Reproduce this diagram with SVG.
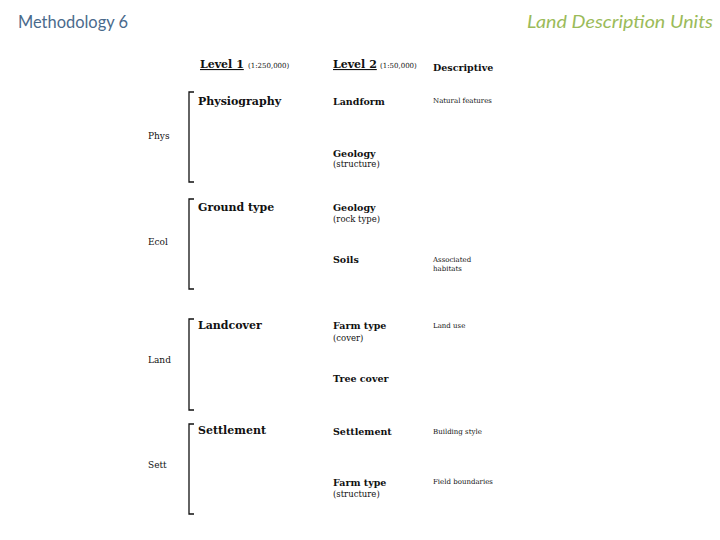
<svg xmlns="http://www.w3.org/2000/svg" width="720" height="540" viewBox="0 0 720 540">
<style>
.hdr{font-family:"Lato","Open Sans","Liberation Sans",sans-serif;font-size:18px}
.t{font-family:"DejaVu Serif","Liberation Serif",serif;fill:#111}
.b1{font-size:11px;font-weight:bold}
.b2{font-size:9.5px;font-weight:bold}
.s{font-size:7px}
.n{font-size:9px}
.sub{font-size:8.5px}
.u{text-decoration:underline}
.br{fill:none;stroke:#111;stroke-width:1.3}
</style>
<rect width="720" height="540" fill="#fff"/>
<text class="hdr" x="18" y="28" fill="#4a6a8c" textLength="110" lengthAdjust="spacingAndGlyphs">Methodology 6</text>
<text class="hdr" x="527" y="28" fill="#9bbb59" font-style="italic" textLength="186" lengthAdjust="spacingAndGlyphs">Land Description Units</text>
<g id="headers">
<text class="t b1 u" x="200" y="68">Level 1</text><text class="t s" x="248" y="68">(1:250,000)</text>
<text class="t b1 u" x="333" y="68">Level 2</text><text class="t s" x="380" y="68">(1:50,000)</text>
<text class="t b2" x="433" y="71">Descriptive</text>
</g>
<g id="connectors">
<path class="br" d="M194,92 H189 V182 H194"/>
<path class="br" d="M194,199 H189 V289 H194"/>
<path class="br" d="M194,319 H189 V410 H194"/>
<path class="br" d="M194,424 H189 V514 H194"/>
</g>
<g id="phys">
<text class="t n" x="148" y="139">Phys</text>
<text class="t b1" x="198" y="105">Physiography</text>
<text class="t b2" x="333" y="105">Landform</text>
<text class="t s" x="433" y="103">Natural features</text>
<text class="t b2" x="333" y="157">Geology</text>
<text class="t sub" x="333" y="167">(structure)</text>
</g>
<g id="ecol">
<text class="t n" x="148" y="245">Ecol</text>
<text class="t b1" x="198" y="211">Ground type</text>
<text class="t b2" x="333" y="211">Geology</text>
<text class="t sub" x="333" y="222">(rock type)</text>
<text class="t b2" x="333" y="263">Soils</text>
<text class="t s" x="433" y="262">Associated</text>
<text class="t s" x="433" y="271">habitats</text>
</g>
<g id="land">
<text class="t n" x="148" y="363">Land</text>
<text class="t b1" x="198" y="329">Landcover</text>
<text class="t b2" x="333" y="329">Farm type</text>
<text class="t sub" x="333" y="341">(cover)</text>
<text class="t s" x="433" y="328">Land use</text>
<text class="t b2" x="333" y="382">Tree cover</text>
</g>
<g id="sett">
<text class="t n" x="148" y="468">Sett</text>
<text class="t b1" x="198" y="434">Settlement</text>
<text class="t b2" x="333" y="435">Settlement</text>
<text class="t s" x="433" y="434">Building style</text>
<text class="t b2" x="333" y="486">Farm type</text>
<text class="t sub" x="333" y="497">(structure)</text>
<text class="t s" x="433" y="484">Field boundaries</text>
</g>
</svg>
